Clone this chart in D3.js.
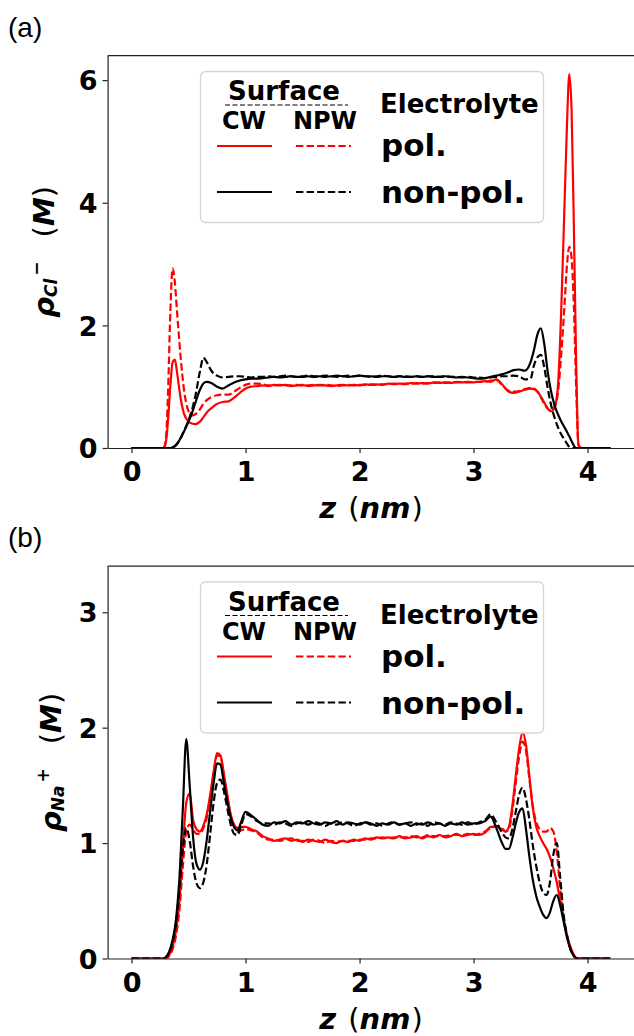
<!DOCTYPE html>
<html lang="en">
<head>
<meta charset="utf-8">
<title>Ion density profiles</title>
<script src="https://cdn.jsdelivr.net/npm/d3@7/dist/d3.min.js"></script>
<style>
	body { margin: 0; background: #fff; }
	svg { display: block; }
	text { font-family: "DejaVu Sans", sans-serif; font-weight: bold; }
	.tick text { font-size: 27px; font-family: "DejaVu Sans", sans-serif; font-weight: bold; }
	.tick line, .domain { stroke: #222; }
	.panelTag { font-family: "Liberation Sans", Arial, sans-serif; font-weight: normal; font-size: 28px; }
</style>
</head>
<body>
<div id="viz"></div>
<script>

// DATA  (z in nm, densities in M)
var zA = [
	0, 0.1, 0.2, 0.28, 0.3, 0.32, 0.34, 0.36, 0.38, 0.4,
	0.43, 0.46, 0.5, 0.53, 0.56, 0.6, 0.63, 0.66, 0.7,
	0.75, 0.8, 0.85, 0.9, 0.95, 1.0, 1.05, 1.1, 1.15,
	1.2, 1.25, 1.3, 1.35, 1.4, 1.45, 1.5, 1.55, 1.6, 1.65,
	1.7, 1.75, 1.8, 1.85, 1.9, 1.95, 2.0, 2.05, 2.1, 2.15,
	2.2, 2.25, 2.3, 2.35, 2.4, 2.45, 2.5, 2.55, 2.6, 2.65,
	2.7, 2.75, 2.8, 2.85, 2.9, 2.95, 3.0,
	3.05, 3.1, 3.15, 3.2, 3.25, 3.3, 3.35, 3.4, 3.45, 3.5,
	3.53, 3.56, 3.59, 3.62, 3.65, 3.68, 3.71, 3.74, 3.77, 3.8,
	3.82, 3.84, 3.86, 3.88, 3.9, 3.92,
	3.95, 4.0, 4.1, 4.2
];

// Cl- : CW surface / polarizable electrolyte (red solid)
var clCwPol = [
	0, 0, 0, 0, 0.08, 0.45, 1.0, 1.4, 1.44, 1.22,
	0.82, 0.56, 0.43, 0.4, 0.39, 0.43, 0.5, 0.58, 0.65,
	0.72, 0.75, 0.76, 0.82, 0.9, 0.97, 1.0, 1.01, 1.02,
	1.01, 1.03, 1.02, 1.03, 1.01, 1.02, 1.03, 1.01, 1.02, 1.03,
	1.02, 1.01, 1.02, 1.03, 1.02, 1.03, 1.02, 1.04, 1.03, 1.04,
	1.03, 1.05, 1.04, 1.05, 1.04, 1.06, 1.05, 1.06, 1.05, 1.07,
	1.06, 1.07, 1.06, 1.08, 1.07, 1.08, 1.07,
	1.08, 1.09, 1.08, 1.12, 1.04, 0.93, 0.9, 0.92, 0.95, 0.97,
	0.96, 0.92, 0.84, 0.74, 0.65, 0.6, 0.66, 1.0, 2.3, 4.1,
	5.3, 6.1, 5.5, 3.6, 1.4, 0.05,
	0, 0, 0, 0
];
// Cl- : NPW surface / polarizable electrolyte (red dashed)
var clNpwPol = [
	0, 0, 0, 0, 0.12, 0.9, 2.2, 2.93, 2.7, 2.2,
	1.5, 0.95, 0.6, 0.53, 0.55, 0.63, 0.72, 0.78, 0.83,
	0.86, 0.87, 0.87, 0.92, 0.98, 1.03, 1.05, 1.05, 1.04,
	1.02, 1.02, 1.03, 1.02, 1.02, 1.03, 1.02, 1.02, 1.03, 1.02,
	1.03, 1.02, 1.01, 1.02, 1.03, 1.02, 1.03, 1.03, 1.04, 1.03,
	1.04, 1.04, 1.05, 1.04, 1.05, 1.05, 1.06, 1.05, 1.06, 1.06,
	1.07, 1.06, 1.07, 1.07, 1.08, 1.07, 1.08,
	1.08, 1.08, 1.1, 1.11, 1.03, 0.94, 0.92, 0.93, 0.96, 0.98,
	0.97, 0.92, 0.83, 0.72, 0.64, 0.6, 0.66, 0.9, 1.55, 2.4,
	3.0, 3.28, 3.1, 2.3, 1.0, 0.05,
	0, 0, 0, 0
];
// Cl- : CW surface / non-polarizable electrolyte (black solid)
var clCwNon = [
	0, 0, 0, 0, 0, 0, 0, 0.01, 0.03, 0.07,
	0.16, 0.27, 0.43, 0.57, 0.74, 0.95, 1.05, 1.08, 1.06,
	1.0, 0.97, 1.02, 1.07, 1.1, 1.12, 1.13, 1.13, 1.14,
	1.15, 1.16, 1.15, 1.16, 1.17, 1.16, 1.16, 1.17, 1.16, 1.17,
	1.16, 1.17, 1.18, 1.17, 1.16, 1.17, 1.18, 1.17, 1.17, 1.16,
	1.17, 1.17, 1.16, 1.17, 1.16, 1.16, 1.17, 1.16, 1.17, 1.16,
	1.16, 1.17, 1.16, 1.15, 1.16, 1.15, 1.14,
	1.13, 1.14, 1.16, 1.18, 1.2, 1.23, 1.27, 1.28, 1.26, 1.4,
	1.6, 1.85, 1.95, 1.7, 1.25, 0.92, 0.7, 0.55, 0.43, 0.33,
	0.26, 0.19, 0.11, 0.04, 0, 0,
	0, 0, 0, 0
];
// Cl- : NPW surface / non-polarizable electrolyte (black dashed)
var clNpwNon = [
	0, 0, 0, 0, 0, 0, 0, 0.01, 0.03, 0.07,
	0.16, 0.28, 0.45, 0.62, 0.85, 1.25, 1.47, 1.4, 1.26,
	1.18, 1.15, 1.16, 1.17, 1.17, 1.16, 1.15, 1.16, 1.16,
	1.17, 1.16, 1.17, 1.18, 1.17, 1.16, 1.17, 1.18, 1.17, 1.17,
	1.18, 1.17, 1.16, 1.17, 1.18, 1.17, 1.18, 1.17, 1.16, 1.17,
	1.18, 1.17, 1.16, 1.17, 1.17, 1.16, 1.17, 1.16, 1.17, 1.17,
	1.16, 1.17, 1.16, 1.16, 1.15, 1.16, 1.15,
	1.15, 1.14, 1.15, 1.16, 1.17, 1.17, 1.18, 1.17, 1.12, 1.13,
	1.35, 1.48, 1.52, 1.32, 0.98, 0.7, 0.5, 0.34, 0.22, 0.13,
	0.07, 0.02, 0, 0, 0, 0,
	0, 0, 0, 0
];

var zB = [
	0, 0.1, 0.2, 0.28, 0.3,
	0.33, 0.36, 0.39, 0.42, 0.45, 0.48, 0.51, 0.54, 0.57, 0.6,
	0.63, 0.66, 0.69, 0.72, 0.75, 0.78, 0.81, 0.84, 0.87, 0.9, 0.93, 0.96,
	1.0, 1.05, 1.1, 1.15,
	1.2, 1.25, 1.3, 1.35, 1.4, 1.45, 1.5, 1.55, 1.6, 1.65,
	1.7, 1.75, 1.8, 1.85, 1.9, 1.95, 2.0, 2.05, 2.1, 2.15,
	2.2, 2.25, 2.3, 2.35, 2.4, 2.45, 2.5, 2.55, 2.6, 2.65,
	2.7, 2.75, 2.8, 2.85, 2.9, 2.95, 3.0,
	3.05, 3.1, 3.15, 3.2, 3.25,
	3.28, 3.31, 3.34, 3.37, 3.4, 3.43, 3.46, 3.49, 3.52, 3.55, 3.58, 3.61,
	3.64, 3.67, 3.7, 3.73, 3.76, 3.79, 3.82, 3.85, 3.88, 3.91, 3.94,
	4.0, 4.1, 4.2
];

// Na+ : CW surface / polarizable electrolyte (red solid)
var naCwPol = [
	0, 0, 0, 0, 0,
	0.03, 0.1, 0.24, 0.5, 0.95, 1.35, 1.43, 1.2, 1.12, 1.1,
	1.15, 1.25, 1.42, 1.62, 1.78, 1.76, 1.6, 1.42, 1.25, 1.16, 1.13, 1.14,
	1.14, 1.12, 1.1, 1.06,
	1.04, 1.02, 1.03, 1.04, 1.02, 1.03, 1.01, 1.03, 1.02, 1.01,
	1.03, 1.01, 1.0, 1.02, 1.01, 1.03, 1.02, 1.04, 1.03, 1.05,
	1.04, 1.05, 1.04, 1.06, 1.04, 1.05, 1.06, 1.04, 1.06, 1.05,
	1.07, 1.05, 1.06, 1.08, 1.06, 1.07, 1.08,
	1.07, 1.09, 1.14, 1.14, 1.12,
	1.1, 1.14, 1.32, 1.58, 1.82, 1.96, 1.85, 1.58, 1.3, 1.14, 1.06, 1.0,
	0.95, 0.88, 0.78, 0.66, 0.5, 0.34, 0.2, 0.1, 0.03, 0, 0,
	0, 0, 0
];
// Na+ : NPW surface / polarizable electrolyte (red dashed)
var naNpwPol = [
	0, 0, 0, 0, 0,
	0.02, 0.08, 0.2, 0.42, 0.8, 1.1, 1.16, 1.12, 1.08, 1.08,
	1.13, 1.22, 1.4, 1.6, 1.76, 1.75, 1.58, 1.4, 1.23, 1.14, 1.1, 1.11,
	1.12, 1.11, 1.09, 1.05,
	1.03, 1.03, 1.02, 1.03, 1.04, 1.02, 1.02, 1.01, 1.03, 1.02,
	1.0, 1.02, 1.01, 1.02, 1.02, 1.02, 1.03, 1.03, 1.04, 1.04,
	1.05, 1.04, 1.05, 1.05, 1.05, 1.06, 1.05, 1.05, 1.07, 1.06,
	1.06, 1.06, 1.07, 1.07, 1.07, 1.08, 1.07,
	1.08, 1.1, 1.13, 1.15, 1.13,
	1.1, 1.12, 1.28, 1.52, 1.75, 1.88, 1.8, 1.55, 1.32, 1.18, 1.12, 1.1,
	1.1, 1.13, 1.1, 0.92, 0.6, 0.35, 0.2, 0.09, 0.03, 0, 0,
	0, 0, 0
];
// Na+ : CW surface / non-polarizable electrolyte (black solid)
var naCwNon = [
	0, 0, 0, 0, 0.01,
	0.06, 0.16, 0.34, 0.7, 1.3, 1.9, 1.5, 1.05, 0.82, 0.77,
	0.84, 1.03, 1.28, 1.52, 1.69, 1.68, 1.52, 1.36, 1.22, 1.14, 1.11, 1.18,
	1.27, 1.24, 1.2, 1.16,
	1.15, 1.18, 1.17, 1.19, 1.16, 1.18, 1.17, 1.19, 1.17, 1.16,
	1.18, 1.17, 1.19, 1.16, 1.18, 1.17, 1.16, 1.18, 1.17, 1.15,
	1.17, 1.16, 1.18, 1.16, 1.17, 1.15, 1.17, 1.16, 1.18, 1.16,
	1.17, 1.15, 1.17, 1.16, 1.18, 1.16, 1.17,
	1.17, 1.19, 1.23, 1.13, 1.0,
	0.95, 0.95, 1.04, 1.17, 1.27, 1.3, 1.12, 0.88, 0.68, 0.54, 0.45, 0.38,
	0.35, 0.4, 0.5, 0.55, 0.46, 0.32, 0.18, 0.08, 0.02, 0, 0,
	0, 0, 0
];
// Na+ : NPW surface / non-polarizable electrolyte (black dashed)
var naNpwNon = [
	0, 0, 0, 0, 0.01,
	0.05, 0.14, 0.3, 0.6, 0.95, 1.13, 1.02, 0.8, 0.65, 0.61,
	0.66, 0.82, 1.08, 1.35, 1.52, 1.55, 1.45, 1.3, 1.16, 1.08, 1.07, 1.15,
	1.25, 1.23, 1.19, 1.17,
	1.17, 1.16, 1.18, 1.17, 1.15, 1.17, 1.18, 1.16, 1.18, 1.17,
	1.15, 1.17, 1.16, 1.18, 1.17, 1.15, 1.17, 1.18, 1.16, 1.17,
	1.15, 1.17, 1.18, 1.16, 1.17, 1.18, 1.16, 1.17, 1.15, 1.18,
	1.17, 1.16, 1.18, 1.17, 1.16, 1.18, 1.16,
	1.18, 1.2, 1.25, 1.18, 1.09,
	1.05, 1.04, 1.12, 1.27, 1.42, 1.48, 1.38, 1.2, 0.98, 0.8, 0.66, 0.57,
	0.55, 0.66, 0.9, 1.0, 0.7, 0.38, 0.2, 0.08, 0.02, 0, 0,
	0, 0, 0
];

var xTicks = [0, 1, 2, 3, 4];
var yTicksA = [0, 2, 4, 6];
var yTicksB = [0, 1, 2, 3];
var surfaceLabels = ["CW", "NPW"];
var electrolyteLabels = ["pol.", "non-pol."];


(function(d3) {

	var w = 634,
		h = 1036;

	var svg = d3.select("#viz")
		.append("svg")
		.attr("width", w)
		.attr("height", h);

	// SCALES  (x shared by both panels)
	var xScale = d3.scaleLinear()
		.domain([-0.21, 4.41])
		.range([107.6, 634.3]);

	var red = "#ff0000",
		black = "#000000",
		dash = "7.4,3.2";

	var panels = [
		{
			tag: "(a)", top: 55.6, bottom: 448, yMax: 6.4, ticks: yTicksA,
			z: zA, series: [clCwPol, clNpwPol, clCwNon, clNpwNon],
			ion: "Cl", charge: "\u2212", labelX: 54
		},
		{
			tag: "(b)", top: 566.1, bottom: 958.5, yMax: 3.4, ticks: yTicksB,
			z: zB, series: [naCwPol, naNpwPol, naCwNon, naNpwNon],
			ion: "Na", charge: "+", labelX: 61
		}
	];

	var styles = [
		{ color: red, dash: null },
		{ color: red, dash: dash },
		{ color: black, dash: null },
		{ color: black, dash: dash }
	];

	panels.forEach(function(p, pi) {

		p.series.forEach(function(s) {
			if (s.length !== p.z.length) throw new Error("length mismatch in panel " + p.tag);
		});

		var yScale = d3.scaleLinear()
			.domain([0, p.yMax])
			.range([p.bottom, p.top]);

		var g = svg.append("g");

		// panel tag
		g.append("text")
			.attr("class", "panelTag")
			.attr("x", 8)
			.attr("y", p.top - 19)
			.text(p.tag);

		// clip
		var clipId = "clip" + pi;
		g.append("clipPath")
			.attr("id", clipId)
			.append("rect")
			.attr("x", xScale.range()[0])
			.attr("y", p.top)
			.attr("width", xScale.range()[1] - xScale.range()[0])
			.attr("height", p.bottom - p.top);

		// LINES
		var line = d3.line()
			.x(function(d) { return xScale(d[0]); })
			.y(function(d) { return yScale(d[1]); })
			.curve(d3.curveMonotoneX);

		var lineG = g.append("g").attr("clip-path", "url(#" + clipId + ")");
		p.series.forEach(function(s, si) {
			var pts = p.z.map(function(z, i) { return [z, s[i]]; });
			lineG.append("path")
				.datum(pts)
				.attr("d", line)
				.style("fill", "none")
				.style("stroke", styles[si].color)
				.style("stroke-width", 2.2)
				.style("stroke-dasharray", styles[si].dash)
				.style("stroke-linejoin", "round");
		});

		// AXIS
		var xAxis = d3.axisBottom(xScale)
			.tickValues(xTicks)
			.tickFormat(d3.format("d"))
			.tickSize(5)
			.tickSizeOuter(0)
			.tickPadding(9);
		var yAxis = d3.axisLeft(yScale)
			.tickValues(p.ticks)
			.tickFormat(d3.format("d"))
			.tickSize(5)
			.tickSizeOuter(0)
			.tickPadding(5);

		var xg = g.append("g")
			.attr("transform", "translate(0," + p.bottom + ")")
			.call(xAxis);
		var yg = g.append("g")
			.attr("transform", "translate(" + xScale.range()[0] + ",0)")
			.call(yAxis);
		yg.selectAll(".tick text").attr("dy", "0.36em");
		[xg, yg].forEach(function(a) {
			a.attr("font-size", null).attr("font-family", null);
			a.select(".domain").style("stroke-width", 1.2);
			a.selectAll(".tick line").style("stroke-width", 1.2);
		});

		// top spine
		g.append("line")
			.attr("x1", xScale.range()[0])
			.attr("x2", xScale.range()[1])
			.attr("y1", p.top)
			.attr("y2", p.top)
			.style("stroke", "#222")
			.style("stroke-width", 1.2);

		// x label
		var xl = g.append("text")
			.attr("x", 371)
			.attr("y", p.bottom + 70)
			.attr("text-anchor", "middle")
			.style("font-size", "29px");
		xl.append("tspan").style("font-style", "italic").text("z");
		xl.append("tspan").style("font-weight", "normal").attr("dx", 3).text(" (");
		xl.append("tspan").style("font-style", "italic").text("nm");
		xl.append("tspan").style("font-weight", "normal").attr("dx", 1).text(")");

		// y label
		var yl = g.append("text")
			.attr("transform", "translate(" + p.labelX + "," + ((p.top + p.bottom) / 2) + ") rotate(-90)")
			.attr("text-anchor", "middle")
			.style("font-size", "29px");
		yl.append("tspan").style("font-style", "italic").text("\u03c1");
		yl.append("tspan").style("font-style", "italic").style("font-size", "17px")
			.attr("dy", 3).text(p.ion);
		yl.append("tspan").style("font-size", "17px").attr("dx", 3)
			.attr("dy", -15).text(p.charge);
		yl.append("tspan").attr("dx", 24).attr("dy", 12).style("font-weight", "normal").text("(");
		yl.append("tspan").style("font-style", "italic").text("M");
		yl.append("tspan").style("font-weight", "normal").text(")");

		// LEGEND
		var lg = g.append("g").attr("transform", "translate(0," + (p.top - 55.6) + ")");
		lg.append("rect")
			.attr("x", 200.5)
			.attr("y", 71.5)
			.attr("width", 343)
			.attr("height", 151)
			.attr("rx", 5)
			.style("fill", "#fff")
			.style("fill-opacity", 0.85)
			.style("stroke", "#d6d6d6")
			.style("stroke-width", 1.3);

		lg.append("text")
			.attr("x", 284)
			.attr("y", 100)
			.attr("text-anchor", "middle")
			.style("font-size", "26px")
			.text("Surface");
		lg.append("line")
			.attr("x1", 225).attr("x2", 348)
			.attr("y1", 105).attr("y2", 105)
			.style("stroke", "#000")
			.style("stroke-width", 1.2)
			.style("stroke-dasharray", "5,2.5");

		lg.selectAll(".surf")
			.data(surfaceLabels)
			.enter()
			.append("text")
			.attr("class", "surf")
			.attr("x", function(d, i) { return [244, 325][i]; })
			.attr("y", 129)
			.attr("text-anchor", "middle")
			.style("font-size", "24px")
			.text(function(d) { return d; });

		lg.append("text")
			.attr("x", 380)
			.attr("y", 113)
			.style("font-size", "26px")
			.text("Electrolyte");

		lg.selectAll(".elec")
			.data(electrolyteLabels)
			.enter()
			.append("text")
			.attr("class", "elec")
			.attr("x", 381)
			.attr("y", function(d, i) { return [156, 203][i]; })
			.style("font-size", "31px")
			.text(function(d) { return d; });

		styles.forEach(function(st, si) {
			var col = si % 2, row = Math.floor(si / 2);
			var x0 = [217, 296][col];
			lg.append("line")
				.attr("x1", x0).attr("x2", x0 + 55)
				.attr("y1", [146, 192][row]).attr("y2", [146, 192][row])
				.style("stroke", st.color)
				.style("stroke-width", 2)
				.style("stroke-dasharray", st.dash);
		});
	});

})(d3);

</script>
</body>
</html>
